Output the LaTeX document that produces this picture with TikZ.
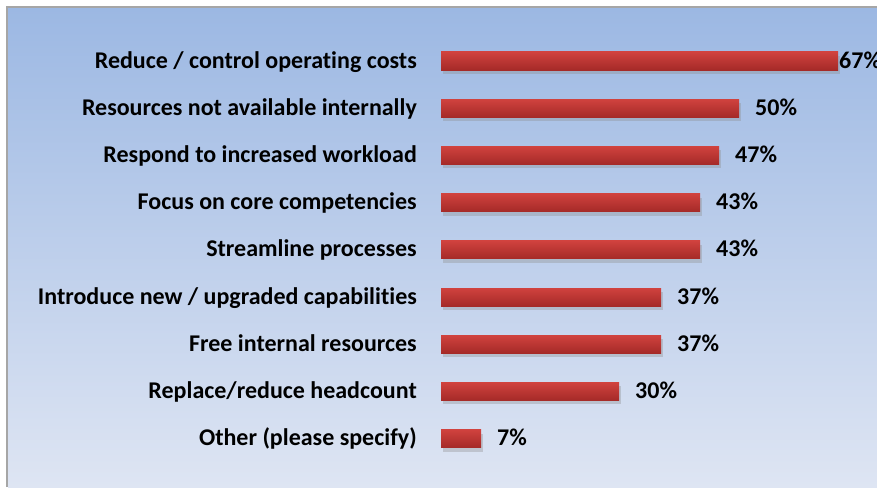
\documentclass[tikz,border=0pt]{standalone}
\usepackage{fontspec}
\setmainfont{Carlito}[Ligatures=NoCommon]
\usepackage{color}
\definecolor{paneltop}{RGB}{156,184,227}
\definecolor{panelbot}{RGB}{222,229,243}
\colorlet{panelline}{black!35}
\definecolor{barred}{RGB}{208,66,62}
\definecolor{bardark}{RGB}{165,42,40}
\colorlet{barshadow}{black!45}

\begin{document}
\begin{tikzpicture}[x=1pt,y=-1pt,
        catlabel/.style={anchor=base east, inner sep=0pt, font=\bfseries\fontsize{24}{26}\selectfont},
        pctlabel/.style={anchor=base west, inner sep=0pt, font=\bfseries\fontsize{24}{26}\selectfont}]
        \useasboundingbox (0,0) rectangle (877,487);
        \fill[white] (0,0) rectangle (877,487);
        \shade[top color=paneltop, bottom color=panelbot] (8,8) rectangle (877,487);
        \draw[panelline, line width=2pt] (7,487)--(7,7)--(877,7);
        \foreach \lab/\val/\xe [count=\i from 0] in {{Reduce / control operating costs}/67/838,
            Resources not available internally/50/739, Respond to increased workload/47/719,
            Focus on core competencies/43/700, Streamline processes/43/700,
            {Introduce new / upgraded capabilities}/37/661, Free internal resources/37/661,
            {Replace/reduce headcount}/30/619, Other (please specify)/7/481}{
            \pgfmathsetmacro\yc{61+47.2*\i}
            \fill[barshadow, opacity=0.35] (443,\yc-5) rectangle (\xe+2,\yc+13);
            \shade[top color=barred, bottom color=bardark] (441,\yc-9) rectangle (\xe,\yc+9);
            \node[catlabel] (lab\i) at (417,\yc+7) {\lab};
            \ifnum\val>60
                \node[pctlabel] (pct\i) at (\xe+1,\yc+7) {\val\%};
            \else
                \node[pctlabel] (pct\i) at (\xe+16,\yc+7) {\val\%};
            \fi
        }
    \end{tikzpicture}
\end{document}
